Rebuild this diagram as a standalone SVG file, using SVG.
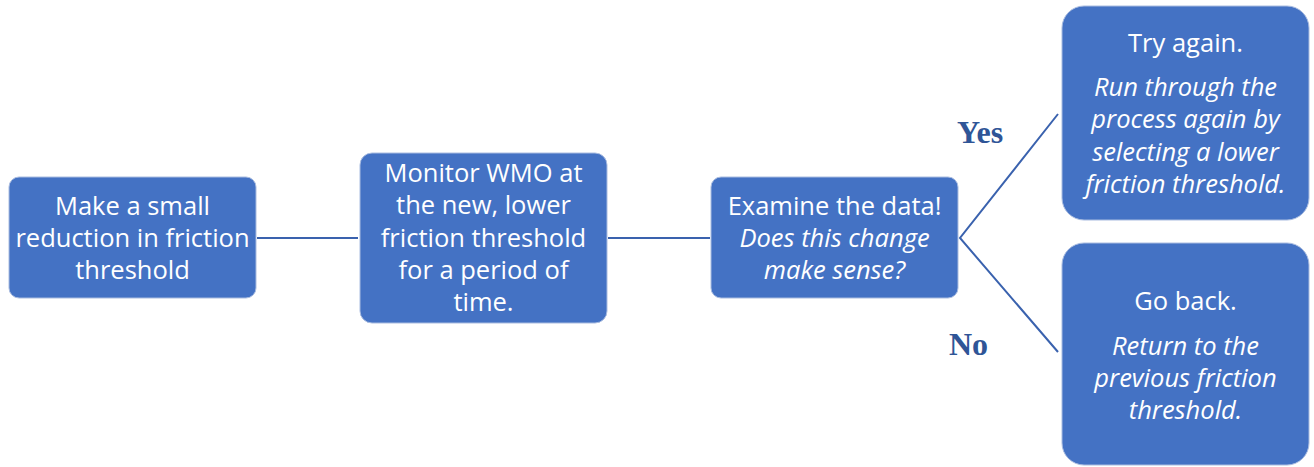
<svg xmlns="http://www.w3.org/2000/svg" width="1314" height="467" viewBox="0 0 1314 467">
  <style>
    .box { fill: #4472C4; stroke: #A9BCE0; stroke-width: 1; }
    .t { font-family: "Open Sans", "Noto Sans", sans-serif; font-size: 25.5px; fill: #FFFFFF; text-anchor: middle; }
    .i { font-style: italic; }
    .link { stroke: #3A62AE; stroke-width: 2; fill: none; }
    .lbl { font-family: "Liberation Serif", serif; font-weight: bold; font-size: 32px; fill: #2F5597; }
  </style>
  <rect width="1314" height="467" fill="#FFFFFF"/>

  <g id="connectors">
    <line class="link" x1="257" y1="238" x2="358" y2="238"/>
    <line class="link" x1="608" y1="238" x2="710" y2="238"/>
    <polyline class="link" points="1058,114 960,238 1058,352"/>
    <text class="lbl" x="957" y="143">Yes</text>
    <text class="lbl" x="949" y="355">No</text>
  </g>

  <g id="reduce">
    <rect class="box" x="9" y="177" width="247" height="121" rx="10"/>
    <text class="t" x="132.5" y="215">Make a small</text>
    <text class="t" x="132.5" y="247">reduction in friction</text>
    <text class="t" x="132.5" y="279">threshold</text>
  </g>

  <g id="monitor">
    <rect class="box" x="360" y="153" width="247" height="170" rx="12"/>
    <text class="t" x="483.5" y="182">Monitor WMO at</text>
    <text class="t" x="483.5" y="214">the new, lower</text>
    <text class="t" x="483.5" y="247">friction threshold</text>
    <text class="t" x="483.5" y="279">for a period of</text>
    <text class="t" x="483.5" y="311">time.</text>
  </g>

  <g id="examine">
    <rect class="box" x="711" y="177" width="247" height="121" rx="10"/>
    <text class="t" x="834.5" y="215">Examine the data!</text>
    <text class="t i" x="834.5" y="247">Does this change</text>
    <text class="t i" x="834.5" y="279">make sense?</text>
  </g>

  <g id="try-again">
    <rect class="box" x="1062" y="6" width="247" height="214" rx="22"/>
    <text class="t" x="1185.5" y="52">Try again.</text>
    <text class="t i" x="1185.5" y="96">Run through the</text>
    <text class="t i" x="1185.5" y="128">process again by</text>
    <text class="t i" x="1185.5" y="161">selecting a lower</text>
    <text class="t i" x="1185.5" y="193">friction threshold.</text>
  </g>

  <g id="go-back">
    <rect class="box" x="1062" y="243" width="247" height="222" rx="22"/>
    <text class="t" x="1185.5" y="310">Go back.</text>
    <text class="t i" x="1185.5" y="355">Return to the</text>
    <text class="t i" x="1185.5" y="387">previous friction</text>
    <text class="t i" x="1185.5" y="419">threshold.</text>
  </g>
</svg>
